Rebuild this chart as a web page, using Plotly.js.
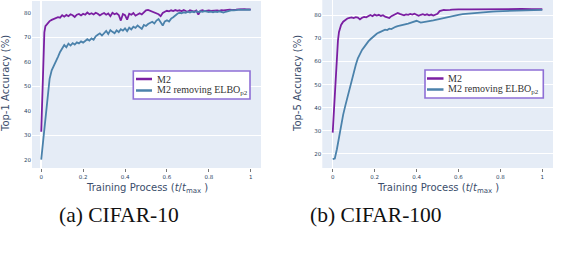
<!DOCTYPE html>
<html>
<head>
<meta charset="utf-8">
<script src="https://cdn.plot.ly/plotly-3.0.1.min.js"></script>
<style>html,body{margin:0;padding:0;background:#fff;}#chart{width:588px;height:264px;}</style>
</head>
<body>
<div id="chart"></div>
<script>
// ---- CIFAR-10 (Top-1) ----
const tA_m2 = [0,0.005,0.01,0.015,0.02,0.03,0.04,0.05,0.06,0.07,0.08,0.09,0.10,0.11,0.12,0.13,0.14,0.15,0.16,0.17,0.18,0.19,0.20,0.21,0.22,0.23,0.24,0.25,0.26,0.27,0.28,0.29,0.30,0.31,0.32,0.33,0.34,0.35,0.36,0.37,0.38,0.39,0.40,0.41,0.42,0.43,0.44,0.45,0.46,0.47,0.48,0.49,0.50,0.51,0.52,0.53,0.54,0.55,0.56,0.57,0.58,0.59,0.60,0.61,0.62,0.63,0.64,0.65,0.66,0.67,0.68,0.69,0.70,0.71,0.72,0.73,0.74,0.75,0.76,0.77,0.78,0.79,0.80,0.81,0.82,0.83,0.84,0.85,0.86,0.87,0.88,0.89,0.90,0.91,0.92,0.93,0.94,0.95,0.96,0.97,0.98,0.99,1.00];
const yA_m2 = [31.4,45,66,72,74.5,75.8,76.6,77.1,77.5,77.9,78.2,78.0,79.0,78.4,79.1,78.6,79.4,79.0,78.3,79.2,79.5,78.9,79.6,79.2,80.1,79.4,79.8,79.3,80.0,79.6,78.9,79.5,79.9,79.2,79.7,78.6,80.0,79.4,79.8,79.1,76.8,79.5,79.0,77.2,79.6,79.2,79.9,78.8,79.4,79.8,79.3,80.0,81.0,81.2,80.8,80.6,80.2,79.8,79.4,78.6,79.9,80.4,80.8,80.6,81.0,80.7,81.1,80.8,81.0,80.6,81.1,80.7,80.4,81.0,80.8,80.5,80.9,79.3,80.8,81.0,80.7,80.9,81.0,80.8,80.9,80.7,81.0,80.8,81.1,81.0,81.2,81.1,81.3,81.2,81.4,81.3,81.4,81.5,81.4,81.5,81.4,81.5,81.4];
const tA_rm = tA_m2;
const yA_rm = [20,24,28,33,38,46,53,56.5,58.2,59.8,62,64,65.5,66.8,65.9,67.4,66.6,67.6,67.0,67.9,67.5,68.3,67.8,68.6,69.2,68.6,69.5,69.0,70.4,71.0,71.6,70.7,71.8,72.6,71.3,72.9,72.2,71.6,72.8,72.1,73.3,72.7,73.6,72.5,73.9,73.2,74.3,73.8,74.8,74.1,73.4,75.0,74.6,75.4,75.9,76.3,75.6,76.8,77.4,76.2,74.8,76.5,76.9,76.4,77.6,78.2,79.0,79.6,80.0,79.8,80.2,80.0,80.4,80.1,80.5,80.2,80.6,80.3,80.6,80.4,80.7,80.4,80.3,80.5,80.2,80.5,80.3,80.6,80.4,80.1,80.4,80.7,80.9,81.1,81.0,81.2,81.1,81.3,81.2,81.3,81.4,81.3,81.2];

// ---- CIFAR-100 (Top-5) ----
const tB_m2 = [0,0.005,0.01,0.015,0.02,0.025,0.03,0.04,0.05,0.06,0.07,0.08,0.09,0.10,0.11,0.12,0.13,0.14,0.15,0.16,0.17,0.18,0.19,0.20,0.21,0.22,0.23,0.24,0.25,0.26,0.27,0.28,0.29,0.30,0.31,0.32,0.33,0.34,0.35,0.36,0.37,0.38,0.39,0.40,0.41,0.42,0.43,0.44,0.45,0.46,0.47,0.48,0.49,0.50,0.51,0.52,0.53,0.54,0.55,0.56,0.57,0.58,0.59,0.60,0.65,0.70,0.75,0.80,0.85,0.90,0.95,1.00];
const yB_m2 = [29.2,38,48,56,63,69,72.8,75.8,77.2,78.0,78.6,78.9,79.1,78.8,79.2,79.0,78.2,78.9,79.3,79.1,79.8,80.1,79.6,80.3,79.9,80.2,79.7,80.0,79.4,79.2,78.8,79.6,80.0,80.4,81.0,80.6,80.3,80.0,80.4,80.2,80.6,80.3,80.7,80.4,79.8,80.2,80.5,80.1,80.4,80.0,80.3,79.9,80.2,80.6,81.8,82.2,82.3,82.2,82.4,82.3,82.4,82.5,82.4,82.5,82.5,82.6,82.5,82.6,82.6,82.7,82.6,82.6];
const tB_rm = [0,0.01,0.02,0.03,0.04,0.05,0.06,0.07,0.08,0.09,0.10,0.11,0.12,0.13,0.14,0.15,0.16,0.17,0.18,0.19,0.20,0.21,0.22,0.23,0.24,0.25,0.26,0.27,0.28,0.29,0.30,0.31,0.32,0.33,0.34,0.35,0.36,0.37,0.38,0.39,0.40,0.42,0.44,0.46,0.48,0.50,0.52,0.54,0.56,0.58,0.60,0.62,0.64,0.66,0.68,0.70,0.72,0.74,0.76,0.78,0.80,0.84,0.88,0.92,0.96,1.00];
const yB_rm = [17.7,18.0,22,27.5,32.5,37,40.8,44.5,48,51.3,55,58.5,61.4,63.5,65.0,66.2,67.6,68.7,69.6,70.5,71.3,72.0,72.5,73.0,73.3,73.8,73.6,74.2,74.0,74.6,75.0,75.3,75.6,75.7,75.9,76.2,76.4,76.7,77.0,77.3,77.6,76.8,77.0,77.5,77.8,78.2,78.8,79.3,79.7,80.0,80.2,80.5,80.7,80.9,81.1,81.2,81.3,81.5,81.6,81.7,81.8,81.9,82.0,82.1,82.2,82.3];

const seriesNames = ['M2', 'M2 removing ELBO<sub>p2</sub>'];
const xTickVals = [0,0.2,0.4,0.6,0.8,1];
const xTickText = ['0','0.2','0.4','0.6','0.8','1'];
const yTickVals = [20,30,40,50,60,70,80];
const captions = ['(a) CIFAR-10', '(b) CIFAR-100'];
const yTitles = ['Top-1 Accuracy (%)', 'Top-5 Accuracy (%)'];
const xTitle = 'Training Process (<i>t</i>/<i>t</i><sub>max</sub> )';
const figCaption = '1: Test accuracy of the semi-supervised VAE (M2)';

const PURPLE = '#7b1fa2', BLUE = '#4b82ab';
const W = 588, H = 264;
const px = v => v / W, py = v => 1 - v / H;

const traces = [
  {x: tA_m2, y: yA_m2, xaxis: 'x', yaxis: 'y', mode: 'lines', line: {color: PURPLE, width: 1.8}, name: seriesNames[0]},
  {x: tA_rm, y: yA_rm, xaxis: 'x', yaxis: 'y', mode: 'lines', line: {color: BLUE, width: 1.8}, name: seriesNames[1]},
  {x: tB_m2, y: yB_m2, xaxis: 'x2', yaxis: 'y2', mode: 'lines', line: {color: PURPLE, width: 1.8}, name: seriesNames[0]},
  {x: tB_rm, y: yB_rm, xaxis: 'x2', yaxis: 'y2', mode: 'lines', line: {color: BLUE, width: 1.8}, name: seriesNames[1]}
];

const tickFont = {family: 'DejaVu Sans', size: 5.5, color: '#2a3f5f'};
const xBase = {tickvals: xTickVals, ticktext: xTickText, showgrid: false, zeroline: true, zerolinecolor: '#fff', zerolinewidth: 1.5,
  ticks: 'outside', ticklen: 3, tickcolor: '#555', tickwidth: 0.8, tickfont: tickFont, showline: false};
const yBase = {tickvals: yTickVals, ticks: '', tickfont: tickFont, zeroline: false, gridcolor: '#fff', gridwidth: 1};

// legend boxes (pixel positions)
const legends = [
  {x0: 133.3, x1: 250, y0: 71, y1: 99, lx0: 136, lx1: 152, ly1: 79, ly2: 90.5, tx: 154.5},
  {x0: 425, x1: 543.3, y0: 70, y1: 98, lx0: 427, lx1: 443.5, ly1: 78.5, ly2: 89.5, tx: 445.5}
];
const shapes = [], annotations = [];
legends.forEach(L => {
  shapes.push({type: 'rect', xref: 'paper', yref: 'paper', x0: px(L.x0), x1: px(L.x1), y0: py(L.y1), y1: py(L.y0),
    fillcolor: '#fff', line: {color: '#8e6fd6', width: 1.6}, layer: 'above'});
  shapes.push({type: 'line', xref: 'paper', yref: 'paper', x0: px(L.lx0), x1: px(L.lx1), y0: py(L.ly1), y1: py(L.ly1), line: {color: PURPLE, width: 2.5}});
  shapes.push({type: 'line', xref: 'paper', yref: 'paper', x0: px(L.lx0), x1: px(L.lx1), y0: py(L.ly2), y1: py(L.ly2), line: {color: BLUE, width: 2.5}});
  annotations.push({xref: 'paper', yref: 'paper', x: px(L.tx), y: py(L.ly1), xanchor: 'left', yanchor: 'middle', showarrow: false,
    text: seriesNames[0], font: {family: 'Liberation Serif', size: 10, color: '#333'}});
  annotations.push({xref: 'paper', yref: 'paper', x: px(L.tx), y: py(L.ly2), xanchor: 'left', yanchor: 'middle', showarrow: false,
    text: seriesNames[1], font: {family: 'Liberation Serif', size: 10, color: '#333'}});
});

const titleFont = {family: 'DejaVu Sans', size: 10, color: '#3b4d6b'};
annotations.push({xref: 'paper', yref: 'paper', x: px(6), y: py(84), textangle: -90, showarrow: false, text: yTitles[0], font: titleFont, xanchor: 'center', yanchor: 'middle'});
annotations.push({xref: 'paper', yref: 'paper', x: px(298), y: py(84), textangle: -90, showarrow: false, text: yTitles[1], font: titleFont, xanchor: 'center', yanchor: 'middle'});
annotations.push({xref: 'paper', yref: 'paper', x: px(146.5), y: py(188), showarrow: false, text: xTitle, font: titleFont, xanchor: 'center', yanchor: 'middle'});
annotations.push({xref: 'paper', yref: 'paper', x: px(437.5), y: py(188), showarrow: false, text: xTitle, font: titleFont, xanchor: 'center', yanchor: 'middle'});
const capFont = {family: 'Liberation Serif', size: 21.5, color: '#111'};
annotations.push({xref: 'paper', yref: 'paper', x: px(119), y: py(215), showarrow: false, text: captions[0], font: capFont, xanchor: 'center', yanchor: 'middle'});
annotations.push({xref: 'paper', yref: 'paper', x: px(376), y: py(215), showarrow: false, text: captions[1], font: capFont, xanchor: 'center', yanchor: 'middle'});
annotations.push({xref: 'paper', yref: 'paper', x: px(28), y: py(276), showarrow: false, text: figCaption, font: capFont, xanchor: 'left', yanchor: 'middle'});

const layout = {
  width: W, height: H, margin: {l: 0, r: 0, t: 0, b: 0}, paper_bgcolor: '#fff', plot_bgcolor: '#e5ecf6',
  showlegend: false,
  xaxis: Object.assign({}, xBase, {domain: [px(32), px(261)], range: [-0.044, 1.049], anchor: 'y'}),
  yaxis: Object.assign({}, yBase, {domain: [1 - 168 / H, 1 - 1 / H], range: [16.6, 84.8], anchor: 'x', showgrid: false,
    minor: {tick0: 10, dtick: 20, showgrid: true, gridcolor: '#fff', gridwidth: 1, ticks: ''}}),
  xaxis2: Object.assign({}, xBase, {domain: [px(322.3), px(553)], range: [-0.0496, 1.051], anchor: 'y2'}),
  yaxis2: Object.assign({}, yBase, {domain: [1 - 168 / H, 1], range: [13.9, 86.6], anchor: 'x2', showgrid: true}),
  shapes: shapes, annotations: annotations
};

Plotly.newPlot('chart', traces, layout, {displayModeBar: false, staticPlot: true});
</script>
</body>
</html>
